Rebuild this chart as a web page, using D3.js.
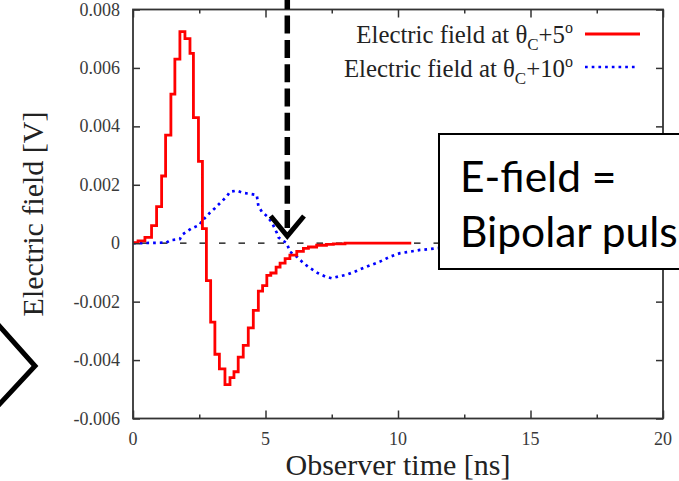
<!DOCTYPE html>
<html>
<head>
<meta charset="utf-8">
<script src="https://cdn.jsdelivr.net/npm/d3@7"></script>
<style>
  html, body { margin: 0; padding: 0; background: #fff; overflow: hidden; }
  svg { display: block; }
</style>
</head>
<body>
<script>
// ---- data ----
const redTime = [0, 0.19, 0.45, 0.70, 0.89, 1.08, 1.23, 1.43, 1.58, 1.77, 1.96, 2.15, 2.28, 2.47, 2.62,
  2.77, 2.93, 3.09, 3.26, 3.47, 3.66, 3.81, 3.97, 4.16, 4.35, 4.54, 4.73, 4.89, 5.05, 5.20, 5.40,
  5.55, 5.74, 5.92, 6.18, 6.43, 6.62, 6.93, 7.30, 7.56, 8.00, 10.5];
const redField = [0.00002, 0.00008, 0.0002, 0.0006, 0.00125, 0.0023, 0.0037, 0.0051, 0.0063, 0.00724,
  0.0070, 0.0065, 0.0043, 0.0028, 0.0005, -0.00128, -0.0027, -0.0038, -0.0043, -0.00484, -0.0046,
  -0.0044, -0.0039, -0.0035, -0.0029, -0.0023, -0.00164, -0.00145, -0.0011, -0.00102, -0.00082,
  -0.00068, -0.00053, -0.00041, -0.00028, -0.00018, -0.00013, -0.00007, -0.00004, -0.00002, 0, 0];

const blueTime = [0, 1.26, 1.40, 1.77, 1.84, 2.20, 2.52, 2.65, 2.70, 2.91, 3.09, 3.28, 3.54, 3.66, 3.91,
  4.16, 4.35, 4.67, 4.73, 4.86, 5.05, 5.24, 5.43, 5.49, 5.62, 5.80, 5.92, 6.18, 6.43, 6.68, 6.99,
  7.25, 7.50, 7.75, 8.06, 8.38, 8.69, 9.00, 9.32, 9.70, 10.08, 10.45, 10.83, 11.20, 11.46, 12.5, 14.0];
const blueField = [0, 0.00002, 0.0001, 0.00014, 0.00028, 0.0005, 0.00063, 0.00085, 0.00085, 0.00105,
  0.0012, 0.00137, 0.0016, 0.00176, 0.0018, 0.00172, 0.0017, 0.00165, 0.00128, 0.00108, 0.00093,
  0.00071, 0.00035, 0.0002, 0.0001, 0.00001, -0.00029, -0.00046, -0.00068, -0.00085, -0.00103,
  -0.00114, -0.0012, -0.00114, -0.00108, -0.00097, -0.00085, -0.00074, -0.00063, -0.00046,
  -0.00034, -0.00029, -0.00023, -0.0002, -0.00017, -0.0001, -0.00005];

const xTicks = [0, 5, 10, 15, 20];
const xMinorTicks = [2.5, 7.5, 12.5, 17.5];
const xTickLabels = ["0", "5", "10", "15", "20"];
const yTicks = [-0.006, -0.004, -0.002, 0, 0.002, 0.004, 0.006, 0.008];
const yTickLabels = ["-0.006", "-0.004", "-0.002", "0", "0.002", "0.004", "0.006", "0.008"];
const seriesNames = ["+5", "+10"];

// ---- drawing ----
const W = 679, H = 481;
const svg = d3.select("body").append("svg").attr("width", W).attr("height", H);
const x = d3.scaleLinear().domain([0, 20]).range([133, 663]);
const y = d3.scaleLinear().domain([-0.006, 0.008]).range([418.5, 9.5]);
const serif = "'Liberation Serif', 'Times New Roman', serif";
const axisColor = "#333";

// zero line
svg.append("line")
  .attr("x1", x(0)).attr("x2", x(20)).attr("y1", y(0)).attr("y2", y(0))
  .attr("stroke", "#000").attr("stroke-width", 1.2)
  .attr("stroke-dasharray", "6.5,13").attr("stroke-dashoffset", -8);

// series
const redData = redTime.map((t, i) => [t, redField[i]]);
const blueData = blueTime.map((t, i) => [t, blueField[i]]);
svg.append("path").datum(blueData)
  .attr("d", d3.line().x(d => x(d[0])).y(d => y(d[1])))
  .attr("fill", "none").attr("stroke", "#0000ff").attr("stroke-width", 2.7)
  .attr("stroke-dasharray", "2.7,4");
svg.append("path").datum(redData)
  .attr("d", d3.line().x(d => x(d[0])).y(d => y(d[1])).curve(d3.curveStepAfter))
  .attr("fill", "none").attr("stroke", "#ff0000").attr("stroke-width", 2.8)
  .attr("stroke-linejoin", "miter");

// frame
svg.append("rect")
  .attr("x", x(0)).attr("y", y(0.008)).attr("width", x(20) - x(0)).attr("height", y(-0.006) - y(0.008))
  .attr("fill", "none").attr("stroke", axisColor).attr("stroke-width", 1.8);

// axes ticks (inward) using d3 axes
const gxB = svg.append("g").attr("transform", `translate(0,${y(-0.006)})`)
  .call(d3.axisTop(x).tickValues(xTicks).tickSize(8).tickFormat(""));
const gxBm = svg.append("g").attr("transform", `translate(0,${y(-0.006)})`)
  .call(d3.axisTop(x).tickValues(xMinorTicks).tickSize(4).tickFormat(""));
const gxT = svg.append("g").attr("transform", `translate(0,${y(0.008)})`)
  .call(d3.axisBottom(x).tickValues(xTicks).tickSize(8).tickFormat(""));
const gxTm = svg.append("g").attr("transform", `translate(0,${y(0.008)})`)
  .call(d3.axisBottom(x).tickValues(xMinorTicks).tickSize(4).tickFormat(""));
const gyL = svg.append("g").attr("transform", `translate(${x(0)},0)`)
  .call(d3.axisRight(y).tickValues(yTicks).tickSize(7).tickFormat(""));
const gyR = svg.append("g").attr("transform", `translate(${x(20)},0)`)
  .call(d3.axisLeft(y).tickValues(yTicks).tickSize(7).tickFormat(""));
[gxB, gxBm, gxT, gxTm, gyL, gyR].forEach(g => {
  g.select(".domain").remove();
  g.selectAll("line").attr("stroke", axisColor).attr("stroke-width", 1.5);
});

// tick labels
svg.append("g").selectAll("text").data(xTicks).join("text")
  .attr("x", d => x(d)).attr("y", 445).attr("text-anchor", "middle")
  .attr("font-family", serif).attr("font-size", 18).attr("fill", "#3a3a3a")
  .text((d, i) => xTickLabels[i]);
svg.append("g").selectAll("text").data(yTicks).join("text")
  .attr("x", 120).attr("y", d => y(d) + 6).attr("text-anchor", "end")
  .attr("font-family", serif).attr("font-size", 18).attr("fill", "#3a3a3a")
  .text((d, i) => yTickLabels[i]);

// axis labels
svg.append("text").attr("x", 398).attr("y", 475).attr("text-anchor", "middle")
  .attr("font-family", serif).attr("font-size", 30).attr("fill", "#222")
  .text("Observer time [ns]");
svg.append("text").attr("transform", "translate(43,214) rotate(-90)").attr("text-anchor", "middle")
  .attr("font-family", serif).attr("font-size", 30).attr("fill", "#222")
  .text("Electric field [V]");

// legend
const legY = [43, 76.5];
seriesNames.forEach((nm, i) => {
  const t = svg.append("text").attr("x", 573).attr("y", legY[i]).attr("text-anchor", "end")
    .attr("font-family", serif).attr("font-size", 24.8).attr("fill", "#222");
  t.append("tspan").text("Electric field at θ");
  t.append("tspan").attr("dy", 7).attr("font-size", 17).text("C");
  t.append("tspan").attr("dy", -7).text(nm);
  t.append("tspan").attr("dy", -10).attr("font-size", 16).text("o");
});
svg.append("line").attr("x1", 585).attr("x2", 640).attr("y1", 34).attr("y2", 34)
  .attr("stroke", "#ff0000").attr("stroke-width", 2.8);
svg.append("line").attr("x1", 585).attr("x2", 638).attr("y1", 67).attr("y2", 67)
  .attr("stroke", "#0000ff").attr("stroke-width", 2.7).attr("stroke-dasharray", "2.7,4");

// annotation: dashed arrow
svg.append("line").attr("x1", 287.3).attr("x2", 287.3).attr("y1", 0).attr("y2", 234)
  .attr("stroke", "#000").attr("stroke-width", 5.5)
  .attr("stroke-dasharray", "18,6.3").attr("stroke-dashoffset", 8.7);
svg.append("path").attr("d", "M270.7,216 L287.3,236 L304,216")
  .attr("fill", "none").attr("stroke", "#000").attr("stroke-width", 5);

// annotation: left chevron
svg.append("path").attr("d", "M-6,320 L35,366 L-6,410")
  .attr("fill", "none").attr("stroke", "#000").attr("stroke-width", 5);

// annotation: text box
svg.append("rect").attr("x", 439).attr("y", 134).attr("width", 260).attr("height", 135)
  .attr("fill", "#fff").attr("stroke", "#000").attr("stroke-width", 2);
const bt = svg.append("text").attr("font-family", "Lato, 'Open Sans', sans-serif")
  .attr("font-size", 42.5).attr("fill", "#000");
bt.append("tspan").attr("x", 460).attr("y", 192).text("E-field =");
bt.append("tspan").attr("x", 460).attr("y", 247).text("Bipolar pulse");
</script>
</body>
</html>
